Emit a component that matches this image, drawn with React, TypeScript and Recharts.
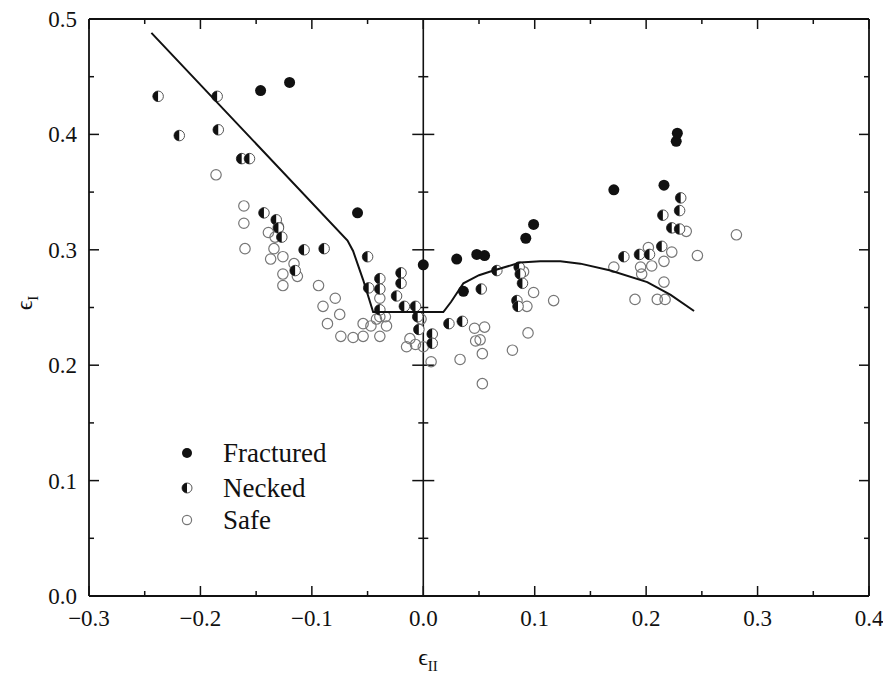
import React from 'react'
import {
  ScatterChart,
  Scatter,
  XAxis,
  YAxis,
  ReferenceLine,
  ReferenceDot,
} from 'recharts'

// strain pairs [eII, eI]
const fractured = [
  [-0.146, 0.438], [-0.12, 0.445], [-0.059, 0.332], [0.0, 0.287],
  [0.03, 0.292], [0.036, 0.264], [0.048, 0.296], [0.055, 0.295],
  [0.092, 0.31], [0.099, 0.322], [0.171, 0.352], [0.216, 0.356],
  [0.227, 0.394], [0.228, 0.401],
]

const necked = [
  [-0.238, 0.433], [-0.219, 0.399], [-0.185, 0.433], [-0.184, 0.404],
  [-0.163, 0.379], [-0.156, 0.379], [-0.143, 0.332], [-0.132, 0.326],
  [-0.13, 0.319], [-0.127, 0.311], [-0.115, 0.282], [-0.107, 0.3],
  [-0.089, 0.301], [-0.05, 0.294], [-0.049, 0.267], [-0.039, 0.275],
  [-0.039, 0.266], [-0.039, 0.248], [-0.02, 0.28], [-0.02, 0.271],
  [-0.024, 0.26], [-0.017, 0.251], [-0.007, 0.251], [-0.005, 0.242],
  [-0.004, 0.231], [0.008, 0.227], [0.008, 0.219], [0.023, 0.236],
  [0.035, 0.238], [0.052, 0.266], [0.066, 0.282], [0.086, 0.285],
  [0.087, 0.279], [0.089, 0.271], [0.084, 0.256], [0.085, 0.251],
  [0.18, 0.294], [0.194, 0.296], [0.203, 0.296], [0.214, 0.303],
  [0.215, 0.33], [0.223, 0.319], [0.23, 0.318], [0.23, 0.334],
  [0.231, 0.345],
]

const safe = [
  [-0.186, 0.365], [-0.161, 0.338], [-0.161, 0.323], [-0.16, 0.301],
  [-0.139, 0.315], [-0.133, 0.311], [-0.134, 0.301], [-0.13, 0.32],
  [-0.137, 0.292], [-0.126, 0.294], [-0.116, 0.288], [-0.113, 0.277],
  [-0.126, 0.279], [-0.126, 0.269], [-0.094, 0.269], [-0.09, 0.251],
  [-0.086, 0.236], [-0.079, 0.258], [-0.075, 0.244], [-0.074, 0.225],
  [-0.063, 0.224], [-0.054, 0.225], [-0.054, 0.236], [-0.047, 0.234],
  [-0.039, 0.225], [-0.033, 0.234], [-0.039, 0.242], [-0.042, 0.24],
  [-0.034, 0.242], [-0.039, 0.258], [-0.002, 0.24], [-0.012, 0.223],
  [-0.015, 0.216], [-0.007, 0.218], [0.0, 0.216], [0.007, 0.203],
  [0.033, 0.205], [0.046, 0.232], [0.055, 0.233], [0.047, 0.221],
  [0.051, 0.222], [0.053, 0.21], [0.053, 0.184], [0.08, 0.213],
  [0.094, 0.228], [0.093, 0.251], [0.09, 0.281], [0.099, 0.263],
  [0.117, 0.256], [0.171, 0.285], [0.19, 0.257], [0.195, 0.285],
  [0.196, 0.279], [0.202, 0.302], [0.205, 0.286], [0.21, 0.257],
  [0.216, 0.29], [0.216, 0.272], [0.217, 0.257], [0.223, 0.298],
  [0.236, 0.316], [0.246, 0.295], [0.281, 0.313],
]

// forming limit curve
const limitCurve = [
  [-0.244, 0.488], [-0.068, 0.308], [-0.063, 0.299], [-0.054, 0.274],
  [-0.045, 0.246], [0.018, 0.246], [0.025, 0.255], [0.036, 0.271],
  [0.05, 0.278], [0.063, 0.282], [0.087, 0.289], [0.105, 0.29],
  [0.123, 0.29], [0.141, 0.288], [0.168, 0.282], [0.201, 0.272],
  [0.222, 0.261], [0.243, 0.247],
]

const xTicks = [-0.3, -0.25, -0.2, -0.15, -0.1, -0.05, 0, 0.05, 0.1, 0.15, 0.2, 0.25, 0.3, 0.35, 0.4]
const yTicks = [0, 0.05, 0.1, 0.15, 0.2, 0.25, 0.3, 0.35, 0.4, 0.45, 0.5]
const zeroLineTicks = yTicks.filter(v => v > 0 && v < 0.5)

const FONT = "'Liberation Serif', 'DejaVu Serif', 'Times New Roman', serif"
const INK = '#111'
const textStyle = { fontFamily: FONT }

const toPts = (arr: number[][]) => arr.map(([x, y]) => ({ x, y }))
const isMajor = (v: number) => Math.abs(Math.round(v * 10) - v * 10) < 1e-6
const fmt = (v: number) => (v < 0 ? '\u2212' : '') + Math.abs(v).toFixed(1)

const BottomTick = ({ x, y, payload }: any) => {
  const major = isMajor(payload.value)
  return (
    <g>
      <line x1={x} x2={x} y1={y} y2={y - (major ? 10 : 5)} stroke={INK} strokeWidth={1.5} />
      {major && (
        <text x={x} y={y + 30} textAnchor="middle" fontSize={23} style={textStyle} fill={INK}>
          {fmt(payload.value)}
        </text>
      )}
    </g>
  )
}

const TopTick = ({ x, y, payload }: any) => {
  const major = isMajor(payload.value)
  return <line x1={x} x2={x} y1={y} y2={y + (major ? 10 : 5)} stroke={INK} strokeWidth={1.5} />
}

const LeftTick = ({ x, y, payload }: any) => {
  const major = isMajor(payload.value)
  return (
    <g>
      <line x1={x} x2={x + (major ? 10 : 5)} y1={y} y2={y} stroke={INK} strokeWidth={1.5} />
      {major && (
        <text x={x - 12} y={y + 8} textAnchor="end" fontSize={23} style={textStyle} fill={INK}>
          {payload.value.toFixed(1)}
        </text>
      )}
    </g>
  )
}

const RightTick = ({ x, y, payload }: any) => {
  const major = isMajor(payload.value)
  return <line x1={x} x2={x - (major ? 10 : 5)} y1={y} y2={y} stroke={INK} strokeWidth={1.5} />
}

const FilledDot = ({ cx, cy, r = 5.5 }: any) => <circle cx={cx} cy={cy} r={r} fill={INK} />

const HalfDot = ({ cx, cy, r = 5.3 }: any) => (
  <g>
    <circle cx={cx} cy={cy} r={r} fill="#fff" stroke="#555" strokeWidth={1} />
    <path d={`M${cx},${cy - r} A${r},${r} 0 0 0 ${cx},${cy + r} Z`} fill={INK} />
  </g>
)

const OpenDot = ({ cx, cy, r = 5.2 }: any) => (
  <circle cx={cx} cy={cy} r={r} fill="#fff" fillOpacity={0} stroke="#777" strokeWidth={1.2} />
)

const CrossTick = ({ cx, cy, payload }: any) => {
  const half = isMajor(payload?.y ?? 0) ? 11 : 5
  return <line x1={cx - half} x2={cx + half} y1={cy} y2={cy} stroke={INK} strokeWidth={1.5} />
}

const legendItems = [
  { label: 'Fractured', Shape: FilledDot },
  { label: 'Necked', Shape: HalfDot },
  { label: 'Safe', Shape: OpenDot },
]
const legendRows = [453, 488, 520]

const axisLine = { stroke: INK, strokeWidth: 1.8 }

export default function App() {
  return (
    <div style={{ position: 'absolute', left: 0, top: 0, width: 883, height: 685, background: '#fff' }}>
      <ScatterChart width={883} height={685} margin={{ top: 18, right: 13, bottom: 88, left: 88 }}>
        <XAxis
          type="number"
          dataKey="x"
          domain={[-0.3, 0.4]}
          ticks={xTicks}
          interval={0}
          height={1}
          tickSize={0}
          tickMargin={0}
          tickLine={false}
          axisLine={axisLine}
          tick={(p: any) => <BottomTick {...p} />}
          allowDataOverflow
        />
        <XAxis
          xAxisId="top"
          orientation="top"
          type="number"
          dataKey="x"
          domain={[-0.3, 0.4]}
          ticks={xTicks}
          interval={0}
          height={1}
          tickSize={0}
          tickMargin={0}
          tickLine={false}
          axisLine={axisLine}
          tick={(p: any) => <TopTick {...p} />}
          allowDataOverflow
        />
        <YAxis
          type="number"
          dataKey="y"
          domain={[0, 0.5]}
          ticks={yTicks}
          interval={0}
          width={1}
          tickSize={0}
          tickMargin={0}
          tickLine={false}
          axisLine={axisLine}
          tick={(p: any) => <LeftTick {...p} />}
          allowDataOverflow
        />
        <YAxis
          yAxisId="right"
          orientation="right"
          type="number"
          dataKey="y"
          domain={[0, 0.5]}
          ticks={yTicks}
          interval={0}
          width={1}
          tickSize={0}
          tickMargin={0}
          tickLine={false}
          axisLine={axisLine}
          tick={(p: any) => <RightTick {...p} />}
          allowDataOverflow
        />
        <ReferenceLine x={0} stroke={INK} strokeWidth={1.6} />
        {zeroLineTicks.map(v => (
          <ReferenceDot
            key={v}
            x={0}
            y={v}
            shape={(p: any) => <CrossTick {...p} payload={{ y: v }} />}
          />
        ))}
        <Scatter name="Safe" data={toPts(safe)} shape={(p: any) => <OpenDot {...p} />} isAnimationActive={false} />
        <Scatter name="Necked" data={toPts(necked)} shape={(p: any) => <HalfDot {...p} />} isAnimationActive={false} />
        <Scatter name="Fractured" data={toPts(fractured)} shape={(p: any) => <FilledDot {...p} />} isAnimationActive={false} />
        <Scatter
          name="Limit"
          data={toPts(limitCurve)}
          line={{ stroke: INK, strokeWidth: 2 }}
          lineType="joint"
          shape={() => <g />}
          isAnimationActive={false}
        />
      </ScatterChart>
      <svg
        width={883}
        height={685}
        style={{ position: 'absolute', left: 0, top: 0, pointerEvents: 'none' }}
      >
        {legendItems.map(({ label, Shape }, i) => (
          <g key={label}>
            <Shape cx={187} cy={legendRows[i]} r={label === 'Safe' ? 4.6 : 5} />
            <text x={223} y={legendRows[i] + 9} fontSize={27} style={textStyle} fill={INK}>
              {label}
            </text>
          </g>
        ))}
        <text x={428} y={665} textAnchor="middle" fontSize={24} style={textStyle} fill={INK}>
          {'\u03F5'}
          <tspan dy={6} fontSize={15}>II</tspan>
        </text>
        <text transform="translate(32,303) rotate(-90)" textAnchor="middle" fontSize={24} style={textStyle} fill={INK}>
          {'\u03F5'}
          <tspan dy={6} fontSize={15}>I</tspan>
        </text>
      </svg>
    </div>
  )
}
